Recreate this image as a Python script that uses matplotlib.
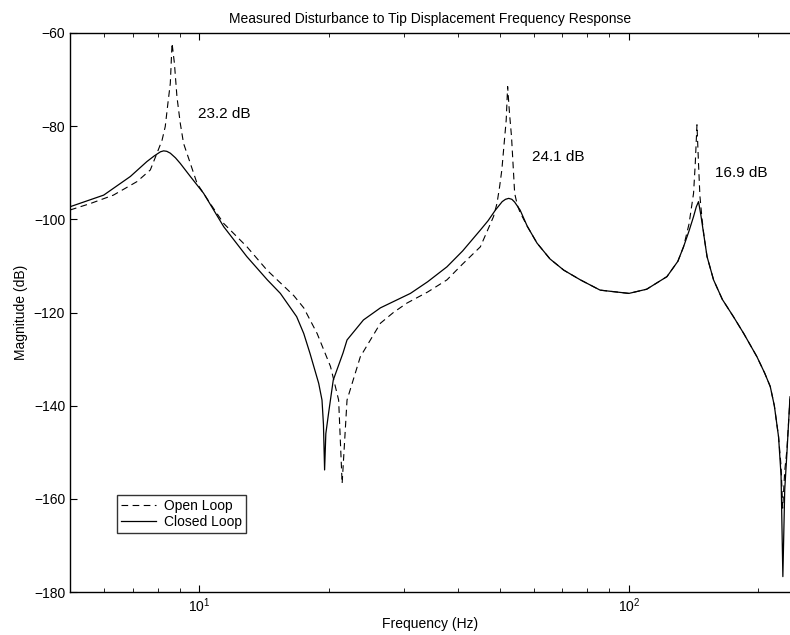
import matplotlib
matplotlib.use("Agg")
import matplotlib.pyplot as plt
from matplotlib.ticker import LogLocator, NullFormatter, FixedLocator

# ---- data ----
open_f = [5.0, 5.58, 6.31, 7.16, 7.69, 7.97, 8.19, 8.33, 8.45, 8.56, 8.64, 8.75, 8.87,
          9.03, 9.19, 9.53, 9.88, 10.6, 11.4, 12.91, 14.37, 16.6, 17.5, 18.8, 20.2,
          21.1, 21.5, 22.07, 23.7, 26.4, 28.3, 30.4, 34.0, 37.7, 41.0, 45.1, 48.4, 49.3,
          50.0, 50.6, 51.2, 51.8, 52.2, 52.7, 53.3, 53.8, 54.2, 55.0, 55.8, 58.0, 61.1,
          65.5, 70.5, 77.1, 85.7, 100.0, 110.0, 122.6, 130.0, 134.0, 138.0, 141.4, 142.7,
          144.0, 145.2, 146.3, 148.0, 149.5, 152.0, 157.4, 165.0, 175.1, 185.0, 198.6,
          207.0, 213.3, 218.0, 223.0, 226.0, 228.0, 230.5, 233.2, 237.1]
open_db = [-98.0, -96.6, -94.8, -91.9, -89.4, -85.8, -83.0, -80.1, -75.1, -70.8, -62.2,
           -66.5, -73.7, -79.4, -83.7, -88.0, -92.3, -96.6, -100.9, -105.9, -110.9, -116.4,
           -119.0, -124.5, -131.6, -138.8, -156.7, -138.8, -129.5, -122.3, -120.0, -118.0,
           -115.6, -113.0, -109.6, -105.9, -99.4, -96.6, -93.0, -89.4, -84.0, -78.7, -71.5,
           -77.0, -82.3, -89.0, -94.4, -97.0, -98.5, -101.5, -105.1, -108.5, -110.9, -113.0,
           -115.2, -115.9, -115.0, -112.3, -109.0, -105.9, -101.0, -94.4, -88.0, -79.7,
           -88.0, -95.0, -100.0, -103.5, -108.0, -113.0, -117.2, -120.9, -124.5, -129.5,
           -133.0, -135.9, -140.0, -146.7, -153.0, -162.0, -154.0, -149.5, -138.5]

closed_f = [5.0, 5.99, 6.91, 7.55, 7.85, 8.12, 8.26, 8.4, 8.56, 8.8, 9.03, 9.53, 10.23,
            11.4, 12.9, 14.4, 15.44, 16.3, 16.85, 17.5, 18.1, 18.96, 19.3, 19.45, 19.57,
            19.7, 19.8, 20.0, 20.5, 21.6, 22.07, 24.1, 26.4, 31.0, 34.0, 37.7, 41.0, 45.1,
            47.0, 48.9, 50.7, 51.6, 52.5, 53.4, 54.2, 55.8, 58.0, 61.1, 65.5, 70.5, 77.1,
            85.7, 100.0, 110.0, 122.6, 130.0, 134.0, 138.0, 141.4, 143.5, 145.2, 147.0,
            149.2, 152.0, 157.4, 165.0, 175.1, 185.0, 198.6, 207.0, 213.3, 218.0, 223.0,
            226.0, 228.2, 230.5, 233.2, 237.1]
closed_db = [-97.3, -94.8, -90.8, -87.6, -86.4, -85.5, -85.3, -85.4, -85.8, -86.8, -88.0,
             -90.8, -94.4, -101.6, -108.0, -113.0, -115.9, -119.0, -120.9, -124.5, -128.8,
             -135.2, -138.8, -144.0, -153.8, -146.0, -144.5, -141.5, -134.5, -128.7, -125.9,
             -121.6, -119.0, -115.9, -113.4, -110.2, -106.8, -102.3, -100.3, -98.0, -96.2,
             -95.7, -95.5, -95.7, -96.3, -98.0, -101.5, -105.1, -108.5, -110.9, -113.0,
             -115.2, -115.9, -115.0, -112.3, -109.0, -105.9, -102.5, -99.4, -97.3, -96.2,
             -99.0, -103.0, -108.0, -113.0, -117.2, -120.9, -124.5, -129.5, -133.0, -135.9,
             -140.0, -146.7, -155.0, -176.7, -158.0, -150.2, -138.1]

annot_text = ["23.2 dB", "24.1 dB", "16.9 dB"]
annot_f = [9.95, 59.6, 158.8]
annot_db = [-77.4, -86.6, -90.0]

xlim = (5.0, 237.1)
ylim = (-180, -60)
yticks = [-180, -160, -140, -120, -100, -80, -60]

plt.rcParams['font.family'] = ['Liberation Sans', 'DejaVu Sans']

fig = plt.figure(figsize=(7.9, 6.35), dpi=100)
ax = fig.add_axes([70/790, 1-592/635, 1-70/790, (592-33)/635])

ax.semilogx(open_f, open_db, color='black', lw=0.8, linestyle=(0, (6, 4)),
            label='Open Loop')
ax.semilogx(closed_f, closed_db, color='black', lw=0.9, linestyle='-',
            label='Closed Loop')

for t, fx, dy in zip(annot_text, annot_f, annot_db):
    ax.text(fx, dy, t, fontsize=11, va='center', ha='left')

ax.set_xlim(*xlim)
ax.set_ylim(*ylim)
ax.yaxis.set_major_locator(FixedLocator(yticks))
ax.xaxis.set_major_locator(LogLocator(base=10))
ax.xaxis.set_minor_locator(LogLocator(base=10, subs=range(2, 10)))
ax.xaxis.set_minor_formatter(NullFormatter())

ax.spines['right'].set_visible(False)
for s in ['left', 'bottom', 'top']:
    ax.spines[s].set_linewidth(1.0)
ax.tick_params(axis='both', which='both', direction='in', top=True, right=False,
               labelsize=10)
ax.tick_params(axis='both', which='major', length=5)
ax.tick_params(axis='x', which='minor', length=3)

ax.set_title('Measured Disturbance to Tip Displacement Frequency Response',
             fontsize=10, pad=7)
ax.set_xlabel('Frequency (Hz)', fontsize=10, labelpad=1)
ax.set_ylabel('Magnitude (dB)', fontsize=10, labelpad=4)

leg = ax.legend(loc='upper left', bbox_to_anchor=((117-70)/720, (592-495)/559),
                fontsize=10, frameon=True, fancybox=False, edgecolor='black',
                handlelength=2.5, handletextpad=0.6, borderpad=0.3,
                labelspacing=0.1, borderaxespad=0)
leg.get_frame().set_linewidth(1.0)

fig.savefig('out.png', dpi=100)
